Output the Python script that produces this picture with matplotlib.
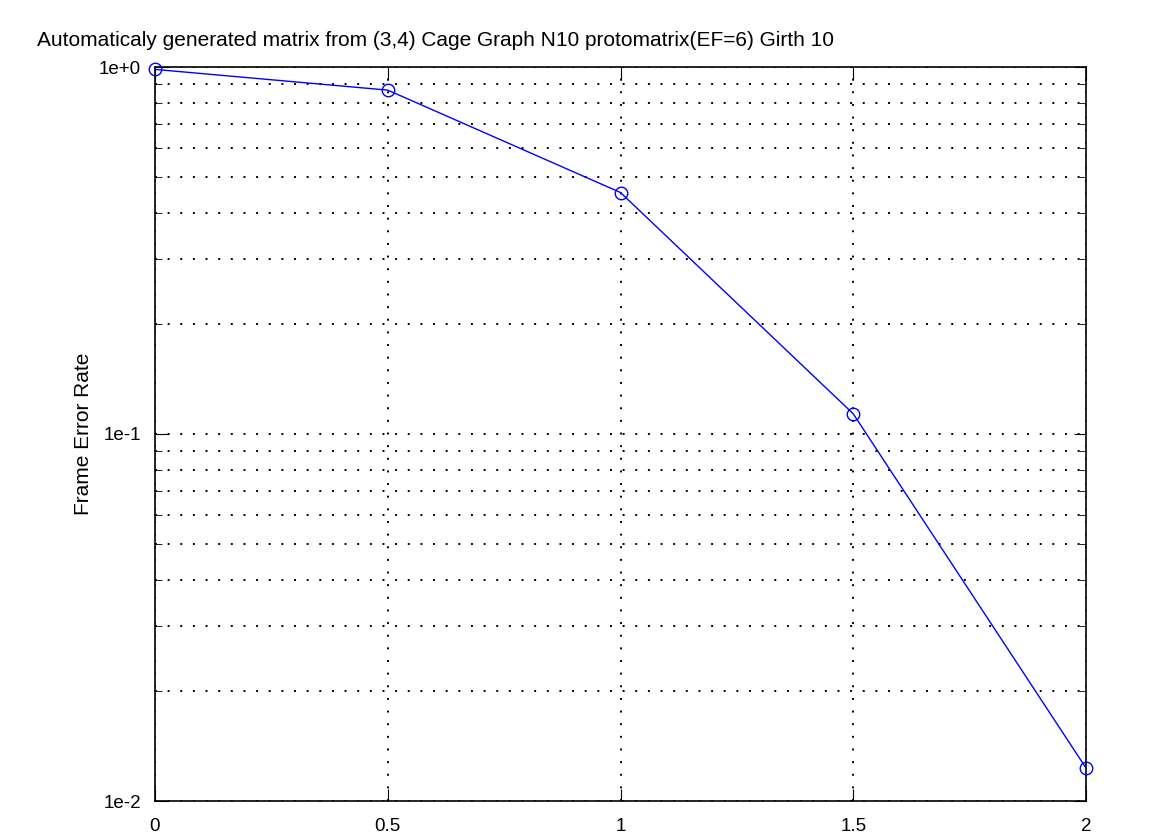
import matplotlib
matplotlib.use("Agg")
import matplotlib.pyplot as plt
from matplotlib.ticker import LogLocator, NullFormatter

snr = [0, 0.5, 1, 1.5, 2]
fer = [0.985, 0.865, 0.455, 0.1135, 0.0123]
xticks = [0, 0.5, 1, 1.5, 2]
xticklabels = ["0", "0.5", "1", "1.5", "2"]
yticks = [1e-2, 1e-1, 1e0]
yticklabels = ["1e-2", "1e-1", "1e+0"]

plt.rcParams['font.family'] = ['Liberation Sans', 'DejaVu Sans']
fig = plt.figure(figsize=(11.75, 8.35), dpi=100)
ax = fig.add_axes([155/1175, 1-801/835, (1086-155)/1175, (801-67)/835])
ax.set_yscale('log')
ax.plot(snr, fer, color='blue', lw=1.0, marker='o', ms=9, mfc='none', mec='blue', mew=1.0, clip_on=False, zorder=5)
ax.set_xlim(0, 2)
ax.set_ylim(0.01, 1.0)
ax.set_xticks(xticks)
ax.set_xticklabels(xticklabels, fontsize=13.5)
ax.set_yticks(yticks)
ax.set_yticklabels(yticklabels, fontsize=13.5)
ax.yaxis.set_minor_locator(LogLocator(base=10, subs=range(2, 10)))
ax.yaxis.set_minor_formatter(NullFormatter())
ax.tick_params(which='both', direction='in', top=True, right=True, color='black')
ax.tick_params(which='major', length=9)
ax.tick_params(axis='x', which='major', pad=12)
ax.tick_params(axis='y', which='major', pad=10)
ax.tick_params(which='minor', length=5)
ax.grid(True, which='both', color='black', linestyle=(0, (1, 5.5)), lw=1.4)
for s in ax.spines.values():
    s.set_color('black')
    s.set_linewidth(1.2)
ax.set_ylabel("Frame Error Rate", fontsize=15, labelpad=4)
fig.text(37/1175, 1-40/835, "Automaticaly generated matrix from (3,4) Cage Graph N10 protomatrix(EF=6) Girth 10",
         fontsize=15, ha='left', va='center')
fig.savefig("out.png", dpi=100)
